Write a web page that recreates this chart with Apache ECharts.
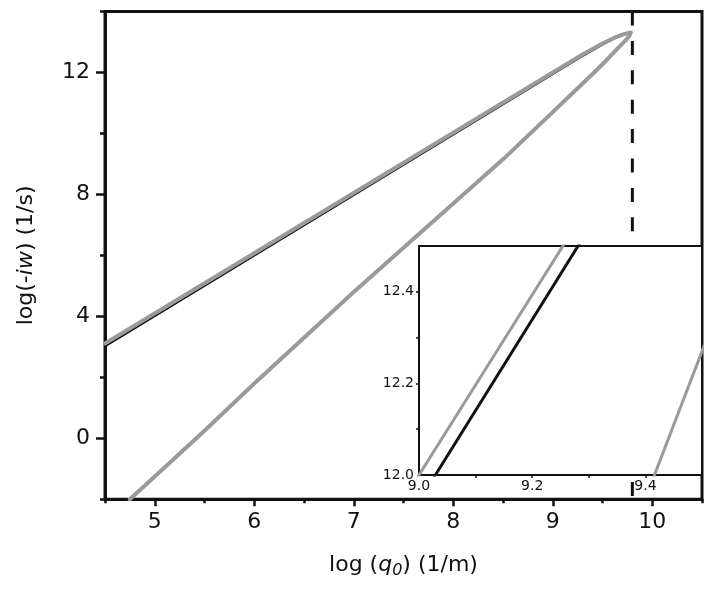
<!DOCTYPE html>
<html><head><meta charset="utf-8">
<script src="https://cdn.jsdelivr.net/npm/echarts@6/dist/echarts.min.js"></script>
<style>html,body{margin:0;padding:0;background:#fff}#c{width:714px;height:595px}</style>
</head><body><div id="c"></div>
<script>
// ---- data ----
const blackX = [4.5, 9.029, 9.281, 9.5, 9.62, 9.7, 9.74];
const blackY = [3.015, 12.0, 12.5, 12.91, 13.12, 13.22, 13.26];
const grayUpperX = [4.5, 9.0, 9.3, 9.5, 9.62, 9.7, 9.75, 9.785];
const grayUpperY = [3.11, 12.0, 12.59, 12.95, 13.14, 13.24, 13.29, 13.31];
const grayLowerX = [9.782, 9.77, 9.75, 9.7, 9.6, 9.5, 9.416, 9.3, 9.0, 8.5, 8.0, 7.5, 7.0, 6.5, 6.0, 5.5, 5.0, 4.75];
const grayLowerY = [13.27, 13.2, 13.12, 12.95, 12.61, 12.27, 12.0, 11.64, 10.7, 9.15, 7.7, 6.25, 4.8, 3.3, 1.8, 0.25, -1.25, -2.0];
const criticalX = 9.8;
const dashYRange = [14, -2];
const xTickLabels = [5, 6, 7, 8, 9, 10];
const yTickLabels = [0, 4, 8, 12];
const insetXLabels = [9.0, 9.2, 9.4];
const insetXTicks = [9.1, 9.2, 9.3, 9.4];
const insetYLabels = [12.0, 12.2, 12.4];
const insetYTicks = [12.1, 12.2, 12.3, 12.4];

// ---- build ----
const zip = (xs, ys) => xs.map((x, i) => [x, ys[i]]);
const blackData = zip(blackX, blackY);
const grayData = zip(grayUpperX, grayUpperY).concat(zip(grayLowerX, grayLowerY));
const dashData = dashYRange.map(y => [criticalX, y]);

const FONT = '"DejaVu Sans", "Liberation Sans", Arial, sans-serif';
const INK = '#111';
const GRAY = '#9a9a9a';

const chart = echarts.init(document.getElementById('c'), null, {renderer: 'canvas'});
chart.setOption({
  backgroundColor: '#fff',
  animation: false,
  textStyle: {fontFamily: FONT, color: INK},
  grid: [
    {left: 105, top: 11.5, right: 12, bottom: 95.7, show: true, borderColor: INK, borderWidth: 3, outerBoundsMode: 'none'},
    {left: 419, top: 246, right: 12, bottom: 120, show: true, backgroundColor: '#fff', borderColor: INK, borderWidth: 2, z: 10, outerBoundsMode: 'none'}
  ],
  xAxis: [
    {
      gridIndex: 0, type: 'value', min: 4.5, max: 10.5, interval: 0.5, position: 'bottom',
      axisLine: {onZero: false, lineStyle: {color: INK, width: 3}},
      axisTick: {length: 4, lineStyle: {color: INK, width: 2.5}},
      axisLabel: {customValues: xTickLabels, fontSize: 22, margin: 12, color: INK, fontFamily: FONT},
      splitLine: {show: false},
      name: '{n|log (}{i|q}{s|0}{n|) (1/m)}', nameLocation: 'middle', nameGap: 52,
      nameTextStyle: {rich: {
        n: {fontSize: 22, fontFamily: FONT, color: INK},
        i: {fontSize: 22, fontFamily: FONT, color: INK, fontStyle: 'italic'},
        s: {fontSize: 16, fontFamily: FONT, color: INK, fontStyle: 'italic', padding: [12, 0, 0, 0]}
      }}
    },
    {
      gridIndex: 0, type: 'value', min: 4.5, max: 10.5, interval: 0.5, position: 'bottom',
      axisLine: {show: false, onZero: false},
      axisTick: {customValues: xTickLabels, length: 7, lineStyle: {color: INK, width: 2.5}},
      axisLabel: {show: false}, splitLine: {show: false}
    },
    {
      gridIndex: 1, type: 'value', min: 9.0, max: 9.5, interval: 0.1, position: 'bottom', z: 11,
      axisLine: {onZero: false, lineStyle: {color: INK, width: 2}},
      axisTick: {customValues: insetXTicks, length: 3, lineStyle: {color: INK, width: 1.5}},
      axisLabel: {customValues: insetXLabels, fontSize: 14, margin: 4, color: INK, fontFamily: FONT,
        formatter: v => Number(v).toFixed(1)},
      splitLine: {show: false}
    }
  ],
  yAxis: [
    {
      gridIndex: 0, type: 'value', min: -2, max: 14, interval: 2, position: 'left',
      axisLine: {onZero: false, lineStyle: {color: INK, width: 3}},
      axisTick: {length: 5, lineStyle: {color: INK, width: 2.5}},
      axisLabel: {customValues: yTickLabels, fontSize: 22, margin: 15, color: INK, fontFamily: FONT},
      splitLine: {show: false},
      name: '{n|log(-}{i|iw}{n|) (1/s)}', nameLocation: 'middle', nameGap: 68,
      nameTextStyle: {rich: {
        n: {fontSize: 22, fontFamily: FONT, color: INK},
        i: {fontSize: 22, fontFamily: FONT, color: INK, fontStyle: 'italic'}
      }}
    },
    {
      gridIndex: 0, type: 'value', min: -2, max: 14, interval: 2, position: 'left',
      axisLine: {show: false, onZero: false},
      axisTick: {customValues: yTickLabels, length: 9, lineStyle: {color: INK, width: 2.5}},
      axisLabel: {show: false}, splitLine: {show: false}
    },
    {
      gridIndex: 1, type: 'value', min: 12.0, max: 12.5, interval: 0.1, position: 'left', z: 11,
      axisLine: {onZero: false, lineStyle: {color: INK, width: 2}},
      axisTick: {customValues: insetYTicks, length: 3, lineStyle: {color: INK, width: 1.5}},
      axisLabel: {customValues: insetYLabels, fontSize: 14, margin: 5, color: INK, fontFamily: FONT,
        formatter: v => Number(v).toFixed(1)},
      splitLine: {show: false}
    }
  ],
  series: [
    {type: 'line', xAxisIndex: 0, yAxisIndex: 0, data: dashData, symbol: 'none', z: 2,
      lineStyle: {color: INK, width: 3, type: [14, 15.4]}},
    {type: 'line', xAxisIndex: 0, yAxisIndex: 0, data: blackData, symbol: 'none', z: 2,
      lineStyle: {color: INK, width: 2}},
    {type: 'line', xAxisIndex: 0, yAxisIndex: 0, data: grayData, symbol: 'none', z: 3,
      lineStyle: {color: GRAY, width: 4, join: 'round', cap: 'round'}},
    {type: 'line', xAxisIndex: 2, yAxisIndex: 2, data: grayData, symbol: 'none', z: 12,
      lineStyle: {color: GRAY, width: 3}},
    {type: 'line', xAxisIndex: 2, yAxisIndex: 2, data: blackData, symbol: 'none', z: 12,
      lineStyle: {color: INK, width: 3}}
  ]
});
</script>
</body></html>
